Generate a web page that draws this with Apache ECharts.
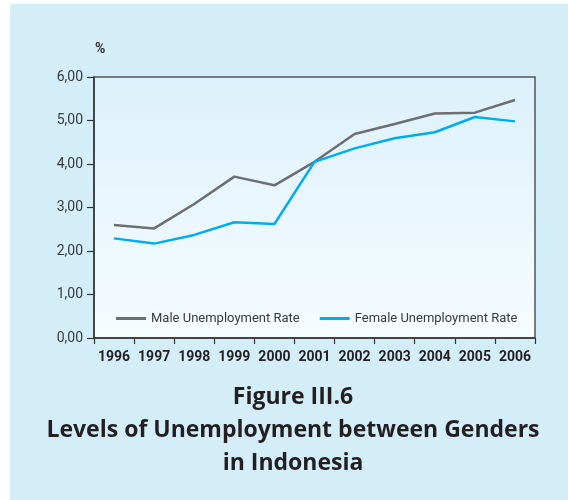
<!DOCTYPE html>
<html>
<head>
<meta charset="utf-8">
<script src="https://cdn.jsdelivr.net/npm/echarts@6/dist/echarts.min.js"></script>
<style>
  html, body { margin: 0; padding: 0; background: #ffffff; }
  #chart { width: 568px; height: 500px; }
</style>
</head>
<body>
<div id="chart"></div>
<script>
const years = ['1996','1997','1998','1999','2000','2001','2002','2003','2004','2005','2006'];
const maleRate = [2.60, 2.52, 3.08, 3.71, 3.51, 4.05, 4.69, 4.92, 5.16, 5.18, 5.47];
const femaleRate = [2.29, 2.17, 2.37, 2.66, 2.62, 4.05, 4.36, 4.59, 4.73, 5.08, 4.98];
const yTicks = { min: 0, max: 6, interval: 1 };
const titleLines = ['Figure III.6', 'Levels of Unemployment between Genders', 'in Indonesia'];
const unitLabel = '%';

const chart = echarts.init(document.getElementById('chart'), null, { renderer: 'canvas' });
chart.setOption({
  animation: false,
  backgroundColor: '#ffffff',
  graphic: [
    { type: 'rect', z: -10, shape: { x: 10, y: 4, width: 558, height: 496 }, style: { fill: '#d3edf9' } },
    { type: 'text', x: 95, y: 42, style: { text: unitLabel, font: 'bold 14px Roboto', fill: '#333333' } },
    { type: 'text', x: 293, y: 381, style: {
        text: titleLines.join('\n'), align: 'center', textAlign: 'center',
        font: 'bold 23px "Open Sans"', lineHeight: 33, fill: '#231f20' } }
  ],
  grid: {
    left: 94, right: 33, top: 77, bottom: 162,
    show: true,
    borderColor: '#555555',
    borderWidth: 1.5,
    backgroundColor: new echarts.graphic.LinearGradient(0, 0, 0, 1, [
      { offset: 0, color: '#dcf1fb' },
      { offset: 1, color: '#f7fcff' }
    ])
  },
  legend: {
    left: 116, top: 312, padding: 0,
    itemWidth: 30, itemHeight: 3, itemGap: 20,
    icon: 'rect',
    textStyle: { fontFamily: 'Roboto', fontSize: 13, color: '#3a3a3a' },
    data: ['Male Unemployment Rate', 'Female Unemployment Rate']
  },
  xAxis: {
    type: 'category',
    data: years,
    boundaryGap: true,
    axisLine: { lineStyle: { color: '#333333', width: 1.5 } },
    axisTick: { show: true, length: 6, interval: 0, lineStyle: { color: '#333333', width: 1.2 } },
    axisLabel: { interval: 0, fontFamily: 'Roboto', fontWeight: 'bold', fontSize: 14, color: '#231f20', margin: 12 },
    splitLine: { show: false }
  },
  yAxis: {
    type: 'value',
    min: yTicks.min, max: yTicks.max, interval: yTicks.interval,
    axisLine: { show: true, lineStyle: { color: '#333333', width: 1.5 } },
    axisTick: { show: true, length: 7, lineStyle: { color: '#333333', width: 1.2 } },
    axisLabel: {
      fontFamily: 'Roboto', fontSize: 14, color: '#3a3a3a', margin: 11,
      formatter: v => v.toFixed(2).replace('.', ',')
    },
    splitLine: { show: false }
  },
  series: [
    {
      name: 'Male Unemployment Rate', type: 'line', data: maleRate,
      symbol: 'none', lineStyle: { color: '#6d6e71', width: 2.5 }, itemStyle: { color: '#6d6e71' }
    },
    {
      name: 'Female Unemployment Rate', type: 'line', data: femaleRate,
      symbol: 'none', lineStyle: { color: '#00aeef', width: 2.5 }, itemStyle: { color: '#00aeef' }
    }
  ]
});
</script>
</body>
</html>
